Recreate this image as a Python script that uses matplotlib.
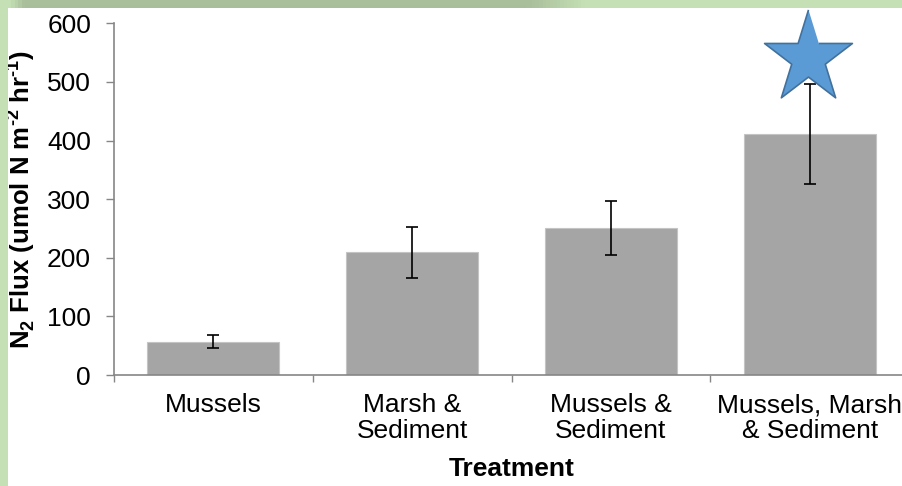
import numpy as np
import matplotlib
matplotlib.use("Agg")
import matplotlib.pyplot as plt
from matplotlib.colors import LinearSegmentedColormap
from matplotlib.patches import Rectangle

# N2 flux by treatment (mean +/- error)
treatments = ["Mussels", "Marsh &\nSediment", "Mussels &\nSediment", "Mussels, Marsh\n& Sediment"]
flux = [57, 209, 250, 411]
flux_err = [11, 44, 46, 85]
yticks = [0, 100, 200, 300, 400, 500, 600]

plt.rcParams["font.family"] = ["Liberation Sans", "DejaVu Sans"]
plt.rcParams["mathtext.fontset"] = "custom"
plt.rcParams["mathtext.rm"] = "Liberation Sans:bold"
plt.rcParams["mathtext.bf"] = "Liberation Sans:bold"

light_green = "#C5E0B4"
dark_green = "#A9BE9B"

fig = plt.figure(figsize=(9.02, 4.86), dpi=100)

# slide-style border: left strip plus a shaded top strip
fig.patches.append(Rectangle((0, 0), 8.3 / 902, 1, transform=fig.transFigure,
                             facecolor=light_green, edgecolor="none", zorder=0))
top = fig.add_axes([0, 1 - 8.5 / 486, 1, 8.5 / 486])
cmap = LinearSegmentedColormap.from_list(
    "band", [(0, light_green), (8 / 902, light_green), (22 / 902, dark_green),
             (530 / 902, dark_green), (585 / 902, light_green), (1, light_green)])
top.imshow(np.linspace(0, 1, 902)[None, :], aspect="auto", cmap=cmap,
           extent=[0, 1, 0, 1], interpolation="bilinear")
top.axis("off")

ax = fig.add_axes([114 / 902, 1 - 375 / 486, 795 / 902, 351.7 / 486])
x = np.arange(len(treatments))
ax.bar(x, flux, width=0.665, color="#A5A5A5", edgecolor="#C4C4C4", linewidth=0.8, zorder=2)
ax.errorbar(x, flux, yerr=flux_err, fmt="none", ecolor="black", elinewidth=1.2,
            capsize=4.6, capthick=1.2, zorder=3)

# star marking the significant treatment
t = np.pi / 2 + np.arange(10) * np.pi / 5
r = np.where(np.arange(10) % 2 == 0, 1.0, 0.382)
star = np.column_stack([0.95 * r * np.cos(t), r * np.sin(t)])
ax.plot([2.99], [541.5], marker=star, markersize=70, color="#5B9BD5",
        markeredgecolor="#41719C", markeredgewidth=1.2, clip_on=False, zorder=4)

ax.set_xlim(-0.5, len(treatments) - 0.5)
ax.set_ylim(0, 600)
ax.set_yticks(yticks)
ax.set_xticks(np.arange(len(treatments) + 1) - 0.5)
ax.set_xticklabels([])
ax.set_xticks(x, minor=True)
ax.set_xticklabels(treatments, minor=True, fontsize=19, linespacing=1.1)
ax.tick_params(axis="x", which="minor", length=0, pad=13)
ax.tick_params(axis="x", which="major", length=5, width=1.0, color="#868686")
ax.tick_params(axis="y", length=5.5, width=1.0, color="#868686", pad=11, labelsize=19)

for side in ["top", "right"]:
    ax.spines[side].set_visible(False)
for side in ["left", "bottom"]:
    ax.spines[side].set_color("#868686")
    ax.spines[side].set_linewidth(1.2)

ax.set_xlabel("Treatment", fontsize=19, fontweight="bold", labelpad=10)
ax.set_ylabel(r"N$_2$ Flux (umol N m$^{\text{-2}}$ hr$^{\text{-1}}$)",
              fontsize=18.5, fontweight="bold", labelpad=7)

fig.savefig("out.png", dpi=100)
